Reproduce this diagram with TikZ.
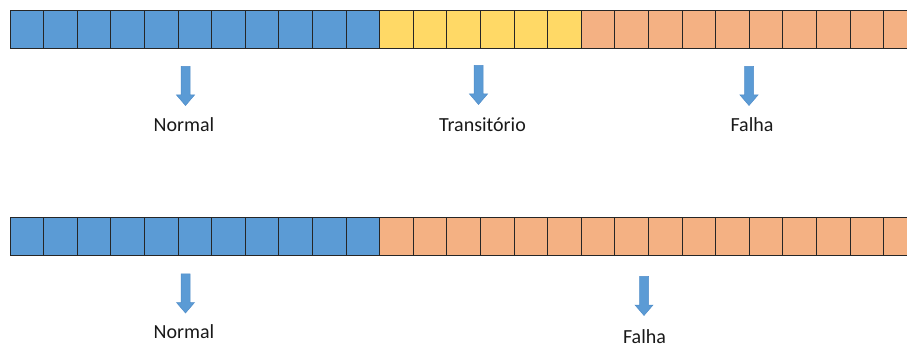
\documentclass[tikz,border=0pt]{standalone}
\usepackage{fontspec}
\setmainfont{Carlito}
\usetikzlibrary{calc}
\definecolor{cellblue}{HTML}{5B9BD5}
\definecolor{cellyellow}{HTML}{FFD966}
\definecolor{cellorange}{HTML}{F4B183}
\definecolor{celledge}{HTML}{262626}
\definecolor{arrowedge}{HTML}{4F8CC9}
\tikzset{
  cell/.style={draw=celledge, line width=0.9pt},
  label text/.style={font=\fontsize{20}{24}\selectfont, text=black!90, anchor=base, inner sep=0pt},
  pics/downarrow/.style={code={
    \fill[cellblue, draw=arrowedge, line width=0.5pt]
      (-4.5,0) -- (4.5,0) -- (4.5,28.5) -- (9,28.5) -- (0,39) -- (-9,28.5) -- (-4.5,28.5) -- cycle;
  }}
}
\begin{document}
\begin{tikzpicture}[x=1pt, y=-1pt]
\useasboundingbox (0,0) rectangle (907,347);
\clip (0,0) rectangle (907,347);
% upper bar: 11 normal, 6 transitional, then failure cells
\foreach \i in {0,...,26} {
  \pgfmathsetmacro{\xa}{10+33.6*\i}
  \pgfmathsetmacro{\xb}{10+33.6*(\i+1)}
  \ifnum\i<11 \def\cc{cellblue}\else\ifnum\i<17 \def\cc{cellyellow}\else\def\cc{cellorange}\fi\fi
  \path[cell, fill=\cc] (\xa,10) rectangle (\xb,48);
}
% lower bar: 11 normal, then failure cells
\foreach \i in {0,...,26} {
  \pgfmathsetmacro{\xa}{10+33.6*\i}
  \pgfmathsetmacro{\xb}{10+33.6*(\i+1)}
  \ifnum\i<11 \def\cc{cellblue}\else\def\cc{cellorange}\fi
  \path[cell, fill=\cc] (\xa,217) rectangle (\xb,255);
}
% state arrows
\pic at (185.5,66.5) {downarrow};
\pic at (478.5,65.5) {downarrow};
\pic at (749,66.5) {downarrow};
\pic at (185.5,274) {downarrow};
\pic at (644,276.5) {downarrow};
% state labels
\node[label text] (n1) at (184,131.5) {Normal};
\node[label text] (t1) at (482.5,131.5) {Transitório};
\node[label text] (f1) at (752,131.5) {Falha};
\node[label text] (n2) at (184,338.5) {Normal};
\node[label text] (f2) at (644.5,343) {Falha};
\end{tikzpicture}
\end{document}
